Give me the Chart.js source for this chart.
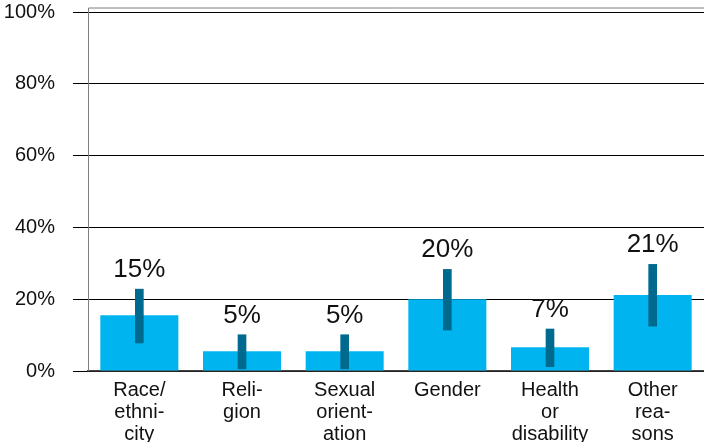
<!DOCTYPE html>
<html>
<head>
<meta charset="utf-8">
<script src="https://cdn.jsdelivr.net/npm/chart.js@4"></script>
<style>
  body { margin: 0; background: #fff; }
</style>
</head>
<body>
<canvas id="reasonsChart" width="704" height="442"></canvas>
<script>
// categories (multi-line, as printed under the bars)
const categories = [
  ['Race/', 'ethni-', 'city'],
  ['Reli-', 'gion'],
  ['Sexual', 'orient-', 'ation'],
  ['Gender'],
  ['Health', 'or', 'disability'],
  ['Other', 'rea-', 'sons']
];
const shares = [15.5, 5.5, 5.5, 20.0, 6.6, 21.2];
const errLow = [7.8, 0.6, 0.6, 11.4, 1.2, 12.5];
const errHigh = [22.8, 10.1, 10.1, 28.3, 11.7, 29.7];
const shareLabels = ['15%', '5%', '5%', '20%', '7%', '21%'];

const FONT = "'Liberation Sans', Arial, sans-serif";

// grey frame round the plot + value labels over the error bars
const framePlugin = {
  id: 'frame',
  beforeDatasetsDraw(chart) {
    const { ctx, chartArea } = chart;
    ctx.save();
    ctx.strokeStyle = '#7f7f7f';
    ctx.lineWidth = 1;
    ctx.beginPath();
    ctx.moveTo(chartArea.left + 0.5, chartArea.bottom);
    ctx.lineTo(chartArea.left + 0.5, chartArea.top - 4);
    ctx.lineTo(chartArea.right, chartArea.top - 4);
    ctx.stroke();
    ctx.restore();
  },
  afterDatasetsDraw(chart) {
    const { ctx } = chart;
    const meta = chart.getDatasetMeta(0);
    const y = chart.scales.y;
    ctx.save();
    ctx.font = '26px ' + FONT;
    ctx.fillStyle = '#111';
    ctx.textAlign = 'center';
    ctx.textBaseline = 'alphabetic';
    meta.data.forEach((el, i) => {
      ctx.fillText(shareLabels[i], el.x, y.getPixelForValue(errHigh[i]) - 12);
    });
    ctx.restore();
  }
};

new Chart(document.getElementById('reasonsChart').getContext('2d'), {
  type: 'bar',
  data: {
    labels: categories,
    datasets: [{
      label: 'Error',
      data: errLow.map((lo, i) => [lo, errHigh[i]]),
      backgroundColor: '#006a8e',
      barThickness: 8,
      grouped: false,
      order: 0
    }, {
      label: 'Share',
      data: shares,
      backgroundColor: '#00b5ef',
      categoryPercentage: 1,
      barPercentage: 0.76,
      grouped: false,
      order: 1
    }]
  },
  options: {
    responsive: false,
    animation: false,
    layout: { padding: { top: 12, right: 0, left: 0, bottom: 0 } },
    plugins: {
      legend: { display: false },
      tooltip: { enabled: false }
    },
    scales: {
      x: {
        grid: { display: false },
        border: { color: '#444', width: 1.5 },
        ticks: {
          color: '#111',
          padding: 0,
          maxRotation: 0,
          autoSkip: false,
          font: { family: FONT, size: 20, lineHeight: 1.1 }
        },
        afterFit(scale) { scale.height = 71; }
      },
      y: {
        min: 0,
        max: 100,
        border: { display: false },
        grid: { color: '#000', lineWidth: 1, tickLength: 15 },
        ticks: {
          stepSize: 20,
          color: '#111',
          padding: 18,
          font: { family: FONT, size: 20 },
          callback: v => v + '%'
        },
        afterFit(scale) {
          scale.width = 88;
          scale.paddingTop = 0;
          scale.paddingBottom = 0;
        }
      }
    }
  },
  plugins: [framePlugin]
});
</script>
</body>
</html>
